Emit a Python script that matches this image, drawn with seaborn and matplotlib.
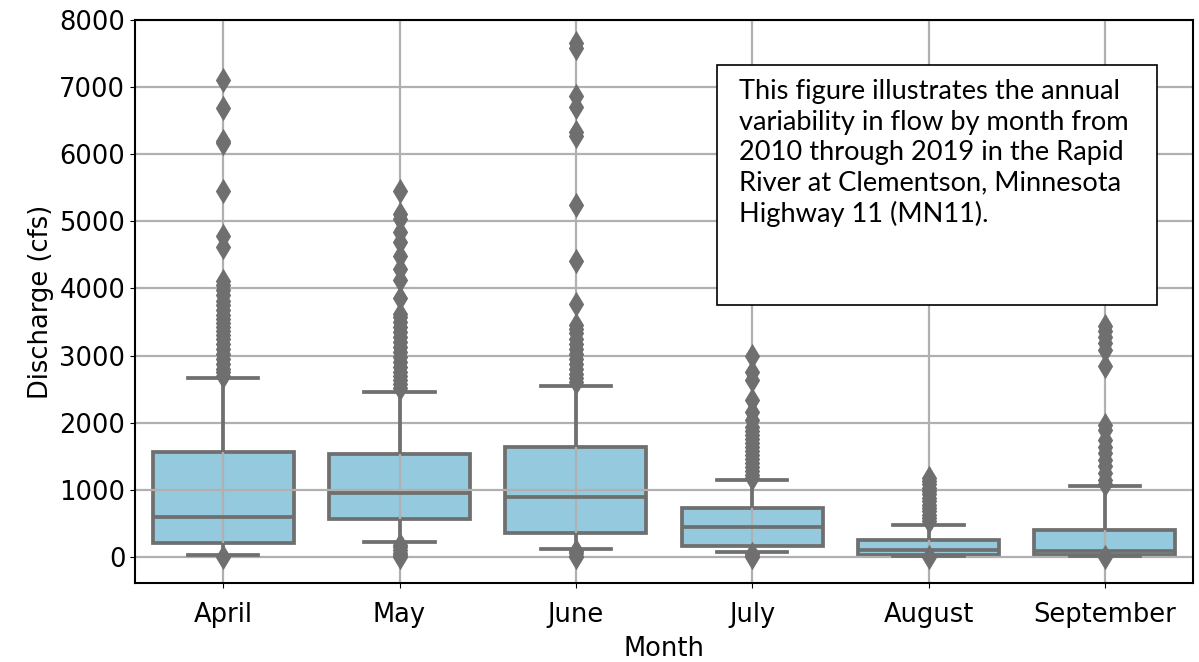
import pandas as pd
import matplotlib.pyplot as plt
import seaborn as sns
from matplotlib.patches import Rectangle

months = ['April', 'May', 'June', 'July', 'August', 'September']

# box summary per month: lower whisker, q1, median, q3, upper whisker
april_box = [35, 210, 590, 1555, 2665]
may_box = [225, 570, 955, 1540, 2455]
june_box = [118, 360, 895, 1630, 2550]
july_box = [70, 165, 440, 725, 1150]
august_box = [8, 25, 95, 245, 480]
september_box = [10, 35, 90, 395, 1050]

# outlying daily flows
april_out = [7100, 6690, 6200, 6170, 5445, 4785, 4620, 4110, 4050, 3980, 3900,
             3820, 3750, 3680, 3600, 3540, 3480, 3420, 3360, 3300, 3240, 3170,
             3100, 3020, 2950, 2880, 2800, 2750, 2700, 0]
may_out = [5450, 5110, 5040, 4840, 4690, 4480, 4290, 4120, 3850, 3620, 3570,
           3500, 3420, 3350, 3280, 3200, 3120, 3050, 2980, 2900, 2830, 2760,
           2700, 2640, 2580, 2520, 180, 140, 100, 60, 30, 0]
june_out = [7650, 7590, 6870, 6700, 6330, 6270, 5250, 4410, 3765, 3460, 3400,
            3330, 3250, 3170, 3100, 3020, 2950, 2870, 2800, 2730, 2660, 2610,
            90, 50, 20, 0]
july_out = [3000, 2750, 2630, 2330, 2160, 2035, 1940, 1880, 1820, 1760, 1700,
            1640, 1580, 1520, 1460, 1400, 1340, 1280, 1220, 1180, 40, 20, 0]
august_out = [1180, 1130, 1080, 1030, 980, 930, 880, 830, 780, 730, 680, 630,
              580, 530, 0]
september_out = [3440, 3370, 3270, 3180, 3080, 2850, 1960, 1890, 1740, 1640,
                 1545, 1450, 1350, 1250, 1150, 1080, 0]

box_vals = [april_box, may_box, june_box, july_box, august_box, september_box]
out_vals = [april_out, may_out, june_out, july_out, august_out, september_out]

core = pd.DataFrame([(m, v) for m, vals in zip(months, box_vals) for v in vals],
                    columns=['Month', 'Discharge'])
outl = pd.DataFrame([(m, v) for m, vals in zip(months, out_vals) for v in vals],
                    columns=['Month', 'Discharge'])

plt.rcParams['font.family'] = ['DejaVu Sans']
plt.rcParams['font.size'] = 18.5
fig = plt.figure(figsize=(11.99, 6.62), dpi=100)
ax = fig.add_axes([0.1126, 0.1193, 0.8824, 0.8505])

gray = '#6f6f6f'
sns.boxplot(data=core, x='Month', y='Discharge', order=months, color='skyblue',
            whis=(0, 100), showfliers=False, linecolor=gray, linewidth=2.7,
            width=0.8, ax=ax)
sns.stripplot(data=outl, x='Month', y='Discharge', order=months, jitter=False,
              marker='d', color=gray, size=13, linewidth=0, ax=ax, zorder=3)

# box fill sits under the grid, like the original
for p in ax.patches:
    p.set_zorder(1)
ax.set_axisbelow('line')
ax.grid(True, axis='both', color='#b0b0b0', linewidth=1.6)
ax.set_ylim(-390, 8000)
ax.set_xlim(-0.5, 5.5)
ax.set_yticks(range(0, 8001, 1000))
ax.tick_params(axis='x', pad=10)
ax.set_xlabel('Month', fontsize=18.5, labelpad=6)
ax.set_ylabel('Discharge (cfs)', fontsize=18.5)
for s in ax.spines.values():
    s.set_linewidth(1.5)
    s.set_color('black')

# note box
ax.add_patch(Rectangle((0.550, 0.494), 0.416, 0.426, transform=ax.transAxes,
                       facecolor='white', edgecolor='black', linewidth=1.2,
                       zorder=5))
note = ('This figure illustrates the annual\n'
        'variability in flow by month from\n'
        '2010 through 2019 in the Rapid\n'
        'River at Clementson, Minnesota\n'
        'Highway 11 (MN11).')
ax.text(0.571, 0.895, note, transform=ax.transAxes, ha='left', va='top',
        fontsize=19.6, family=['Lato', 'DejaVu Sans'], linespacing=1.27, zorder=6)

plt.savefig('out.png', dpi=100)
